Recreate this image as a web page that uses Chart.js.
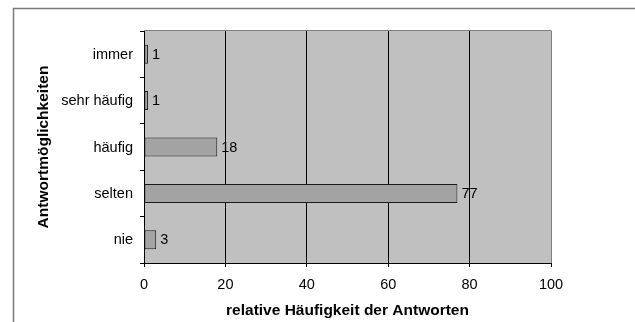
<!DOCTYPE html>
<html>
<head>
<meta charset="utf-8">
<script src="https://cdn.jsdelivr.net/npm/chart.js@4/dist/chart.umd.min.js"></script>
<style>
  html, body { margin: 0; padding: 0; background: #ffffff; }
  canvas { display: block; }
</style>
</head>
<body>
<canvas id="chart" width="635" height="322"></canvas>
<script>
// Antwortkategorien und relative Häufigkeiten (in %)
const categories = ['immer', 'sehr häufig', 'häufig', 'selten', 'nie'];
const values = [1, 1, 18, 77, 3];
const xTicks = [0, 20, 40, 60, 80, 100];

const FONT = "Arial, 'Liberation Sans', sans-serif";

// Hintergrund der Zeichenfläche, Rahmen und Wertebeschriftungen
const decorPlugin = {
  id: 'decor',
  beforeDraw(chart) {
    const { ctx, chartArea: a } = chart;
    ctx.save();
    ctx.fillStyle = '#ffffff';
    ctx.fillRect(0, 0, chart.width, chart.height);
    // äußerer Diagrammrahmen
    ctx.strokeStyle = '#7a7a7a';
    ctx.lineWidth = 1.5;
    ctx.beginPath();
    ctx.moveTo(13.5, chart.height);
    ctx.lineTo(13.5, 8.5);
    ctx.lineTo(chart.width, 8.5);
    ctx.stroke();
    // Zeichenfläche
    ctx.fillStyle = '#c0c0c0';
    ctx.fillRect(a.left, a.top, a.right - a.left, a.bottom - a.top);
    ctx.restore();
  },
  afterDraw(chart) {
    const { ctx, chartArea: a } = chart;
    ctx.save();
    ctx.strokeStyle = '#808080';
    ctx.lineWidth = 1;
    ctx.beginPath();
    ctx.moveTo(a.left, Math.round(a.top) - 0.5);
    ctx.lineTo(Math.round(a.right) + 0.5, Math.round(a.top) - 0.5);
    ctx.stroke();
    ctx.restore();
  },
  afterDatasetsDraw(chart) {
    const { ctx } = chart;
    const meta = chart.getDatasetMeta(0);
    ctx.save();
    ctx.fillStyle = '#000000';
    ctx.font = `14.5px ${FONT}`;
    ctx.textAlign = 'left';
    ctx.textBaseline = 'middle';
    meta.data.forEach((bar, i) => {
      ctx.fillText(String(chart.data.datasets[0].data[i]), bar.x + 4, bar.y + 0.5);
    });
    ctx.restore();
  }
};

new Chart(document.getElementById('chart'), {
  type: 'bar',
  data: {
    labels: categories,
    datasets: [{
      data: values,
      backgroundColor: '#a3a3a3',
      borderColor: '#1a1a1a',
      borderWidth: 1,
      borderSkipped: false,
      categoryPercentage: 1,
      barPercentage: 0.41
    }]
  },
  options: {
    indexAxis: 'y',
    responsive: false,
    animation: false,
    devicePixelRatio: 1,
    layout: { padding: { left: 0, top: 31, right: 84, bottom: 0 } },
    plugins: {
      legend: { display: false },
      tooltip: { enabled: false }
    },
    scales: {
      x: {
        min: 0,
        max: 100,
        afterFit(scale) { scale.height = 59; },
        afterBuildTicks(scale) { scale.ticks = xTicks.map(v => ({ value: v })); },
        ticks: {
          color: '#000000',
          font: { family: FONT, size: 14.5 },
          padding: 9,
          maxRotation: 0
        },
        grid: {
          color: ctx => (ctx.tick && ctx.tick.value === 100 ? '#808080' : '#000000'),
          lineWidth: 1,
          drawTicks: true,
          tickLength: 4,
          tickColor: '#000000'
        },
        border: { display: true, color: '#000000', width: 1 },
        title: {
          display: true,
          text: 'relative Häufigkeit der Antworten',
          color: '#000000',
          font: { family: FONT, size: 15.5, weight: 'bold' },
          padding: { top: 0, bottom: 1.5 }
        }
      },
      y: {
        afterFit(scale) { scale.width = 144; },
        ticks: {
          color: '#000000',
          font: { family: FONT, size: 14.5 },
          padding: 7,
          labelOffset: 0.5
        },
        grid: {
          offset: true,
          drawOnChartArea: false,
          drawTicks: true,
          tickLength: 4,
          tickColor: '#000000'
        },
        border: { display: true, color: '#000000', width: 1 },
        title: {
          display: true,
          text: 'Antwortmöglichkeiten',
          color: '#000000',
          font: { family: FONT, size: 15.5, weight: 'bold' },
          padding: { top: 34.5, bottom: 0 }
        }
      }
    }
  },
  plugins: [decorPlugin]
});
</script>
</body>
</html>
